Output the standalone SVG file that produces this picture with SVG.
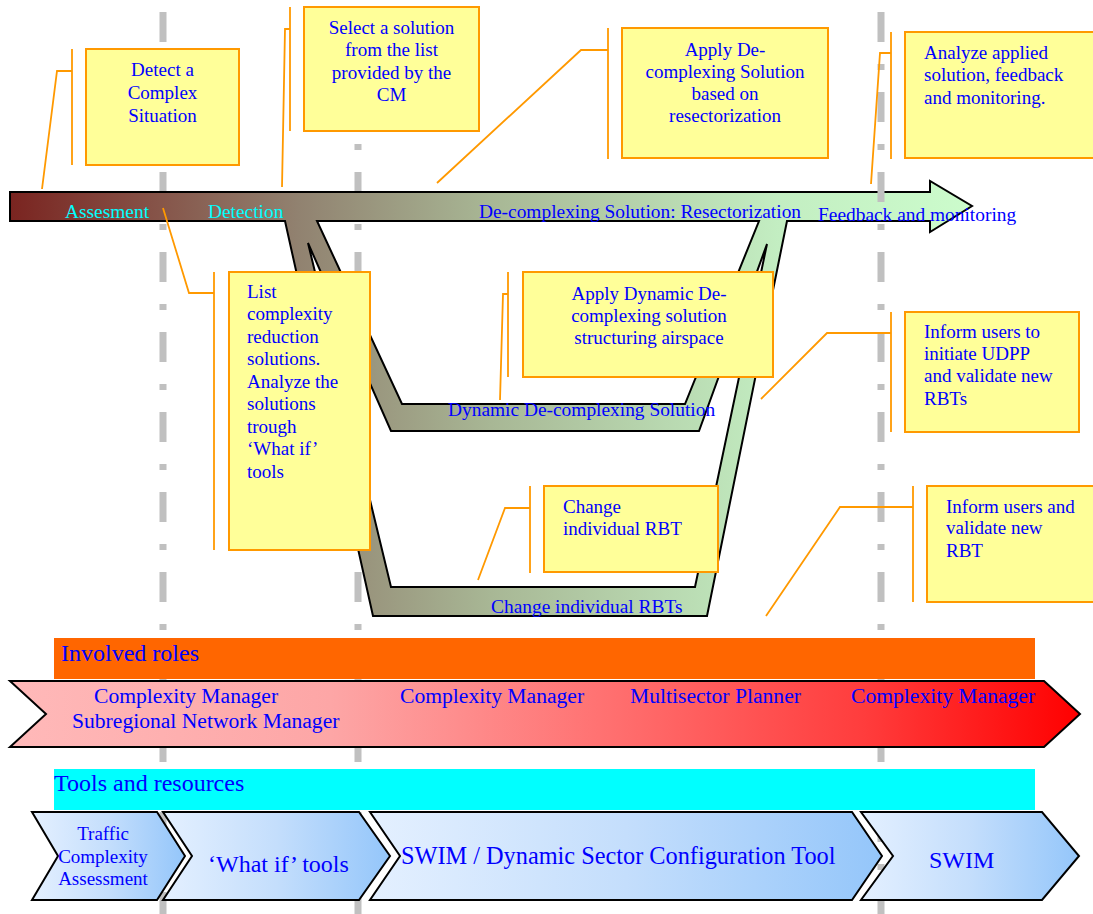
<svg xmlns="http://www.w3.org/2000/svg" width="1093" height="914" viewBox="0 0 1093 914">
<defs>
<linearGradient id="gMain" gradientUnits="userSpaceOnUse" x1="10" y1="0" x2="972" y2="0">
<stop offset="0" stop-color="#7a2420"/>
<stop offset="0.3" stop-color="#918270"/>
<stop offset="0.5" stop-color="#a8b795"/>
<stop offset="0.8" stop-color="#c3eec2"/>
<stop offset="1" stop-color="#ccfccc"/>
</linearGradient>
<linearGradient id="gRoles" gradientUnits="userSpaceOnUse" x1="10" y1="0" x2="1080" y2="0">
<stop offset="0" stop-color="#ffb9b9"/>
<stop offset="0.3" stop-color="#fda6a6"/>
<stop offset="0.55" stop-color="#ff7272"/>
<stop offset="0.8" stop-color="#ff3c3c"/>
<stop offset="1" stop-color="#ff0000"/>
</linearGradient>
<linearGradient id="gTool" x1="0" y1="0" x2="1" y2="0">
<stop offset="0" stop-color="#e4f0ff"/>
<stop offset="0.5" stop-color="#c4defc"/>
<stop offset="1" stop-color="#94c6fa"/>
</linearGradient>
</defs>
<style>
text{font-family:"Liberation Serif","Times New Roman",serif;fill:#0000ff}
.t19{font-size:19px}
.ta{font-size:19.4px}
.cy{fill:#00ffff}
.dash{stroke:#c0c0c0;stroke-width:7;stroke-dasharray:30 22 6 22;fill:none}
.box{fill:#ffff99;stroke:#ff9900;stroke-width:2}
.br{fill:none;stroke:#ff9900;stroke-width:1.8}
.chev{stroke:#000;stroke-width:2;fill:url(#gTool)}
</style>
<rect width="1093" height="914" fill="#fff"/>
<g id="guides">
<line class="dash" x1="163" y1="12" x2="163" y2="914"/>
<line class="dash" x1="358" y1="12" x2="358" y2="914"/>
</g>
<g id="process-arrow">
<path d="M10,192 L930,192 L930,181 L972,206 L930,232 L930,221 L787,221 L707,616 L373,616 L285,221 L10,221 Z M317,221 L759,221 L685,404 L402,404 Z M308,243 L391,431 L699,431 L767,244 L695,587 L391,587 Z" fill="url(#gMain)" fill-rule="evenodd" stroke="#000" stroke-width="2" stroke-linejoin="miter"/>
<text class="ta cy" x="65" y="218">Assesment</text>
<text class="ta cy" x="208" y="218">Detection</text>
<text class="ta" x="479" y="218">De-complexing Solution: Resectorization</text>
<text class="ta" x="818" y="221">Feedback and monitoring</text>
<text class="ta" x="448" y="416">Dynamic De-complexing Solution</text>
<text class="ta" x="491" y="613">Change individual RBTs</text>
</g>
<g id="guide-right">
<line class="dash" x1="881" y1="12" x2="881" y2="914"/>
</g>
<g id="connectors">
<polyline class="br" points="72,49 72,165"/>
<polyline class="br" points="72,71 57,71 42,189"/>
<polyline class="br" points="290,7 290,131"/>
<polyline class="br" points="290,29 285,29 282,187"/>
<polyline class="br" points="608,28 608,159"/>
<polyline class="br" points="608,50 581,50 437,183"/>
<polyline class="br" points="891,32 891,159"/>
<polyline class="br" points="891,53 880,53 871,184"/>
<polyline class="br" points="214,272 214,550"/>
<polyline class="br" points="214,293 189,293 163,208"/>
<polyline class="br" points="508,272 508,377"/>
<polyline class="br" points="508,294 503,294 500,400"/>
<polyline class="br" points="530,486 530,573"/>
<polyline class="br" points="530,508 505,508 478,580"/>
<polyline class="br" points="891,312 891,432"/>
<polyline class="br" points="891,333 827,333 761,399"/>
<polyline class="br" points="913,486 913,602"/>
<polyline class="br" points="913,507 840,507 766,616"/>
</g>
<g id="n-detect">
<rect class="box" x="86" y="49" width="153" height="116"/>
<text class="t19" text-anchor="middle" x="162.5" y="76">Detect a</text>
<text class="t19" text-anchor="middle" x="162.5" y="99">Complex</text>
<text class="t19" text-anchor="middle" x="162.5" y="122">Situation</text>
</g>
<g id="n-select">
<rect class="box" x="304" y="7" width="175" height="124"/>
<text class="t19" text-anchor="middle" x="391.5" y="34">Select a solution</text>
<text class="t19" text-anchor="middle" x="391.5" y="56">from the list</text>
<text class="t19" text-anchor="middle" x="391.5" y="79">provided by the</text>
<text class="t19" text-anchor="middle" x="391.5" y="101">CM</text>
</g>
<g id="n-apply">
<rect class="box" x="622" y="28" width="206" height="130"/>
<text class="t19" text-anchor="middle" x="725" y="56">Apply De-</text>
<text class="t19" text-anchor="middle" x="725" y="78">complexing Solution</text>
<text class="t19" text-anchor="middle" x="725" y="100">based on</text>
<text class="t19" text-anchor="middle" x="725" y="122">resectorization</text>
</g>
<g id="n-analyze">
<rect class="box" x="905" y="32" width="200" height="126"/>
<text class="t19" x="924" y="59">Analyze applied</text>
<text class="t19" x="924" y="81">solution, feedback</text>
<text class="t19" x="924" y="104">and monitoring.</text>
</g>
<g id="n-list">
<rect class="box" x="229" y="272" width="141" height="278"/>
<text class="t19" x="247" y="298">List</text>
<text class="t19" x="247" y="320">complexity</text>
<text class="t19" x="247" y="343">reduction</text>
<text class="t19" x="247" y="365">solutions.</text>
<text class="t19" x="247" y="388">Analyze the</text>
<text class="t19" x="247" y="410">solutions</text>
<text class="t19" x="247" y="433">trough</text>
<text class="t19" x="247" y="455">‘What if’</text>
<text class="t19" x="247" y="478">tools</text>
</g>
<g id="n-dynamic">
<rect class="box" x="523" y="272" width="250" height="105"/>
<text class="t19" text-anchor="middle" x="649" y="300">Apply Dynamic De-</text>
<text class="t19" text-anchor="middle" x="649" y="322">complexing solution</text>
<text class="t19" text-anchor="middle" x="649" y="344">structuring airspace</text>
</g>
<g id="n-change">
<rect class="box" x="544" y="486" width="174" height="86"/>
<text class="t19" x="563" y="513">Change</text>
<text class="t19" x="563" y="535">individual RBT</text>
</g>
<g id="n-inform1">
<rect class="box" x="905" y="312" width="174" height="120"/>
<text class="t19" x="924" y="338">Inform users to</text>
<text class="t19" x="924" y="360">initiate UDPP</text>
<text class="t19" x="924" y="382">and validate new</text>
<text class="t19" x="924" y="405">RBTs</text>
</g>
<g id="n-inform2">
<rect class="box" x="927" y="486" width="180" height="116"/>
<text class="t19" x="946" y="513">Inform users and</text>
<text class="t19" x="946" y="534">validate new</text>
<text class="t19" x="946" y="557">RBT</text>
</g>
<g id="roles">
<rect x="54" y="638" width="981" height="41" fill="#ff6600"/>
<text x="61" y="661" font-size="24">Involved roles</text>
<path d="M10,681 L1044,681 L1080,714 L1044,747 L10,747 L46,714 Z" fill="url(#gRoles)" stroke="#000" stroke-width="2"/>
<text x="94" y="703" font-size="21.6">Complexity Manager</text>
<text x="72" y="728" font-size="21.6">Subregional Network Manager</text>
<text x="400" y="703" font-size="21.6">Complexity Manager</text>
<text x="630" y="703" font-size="21.6">Multisector Planner</text>
<text x="851" y="703" font-size="21.6">Complexity Manager</text>
</g>
<g id="tools">
<rect x="54" y="769" width="981" height="41" fill="#00ffff"/>
<text x="54" y="791" font-size="24">Tools and resources</text>
<path class="chev" d="M32,812 L157,812 L185,856 L157,900 L32,900 L58,856 Z"/>
<path class="chev" d="M163,812 L359,812 L390,856 L359,900 L163,900 L192,856 Z"/>
<path class="chev" d="M370,812 L852,812 L882,856 L852,900 L370,900 L400,856 Z"/>
<path class="chev" d="M861,812 L1042,812 L1079,856 L1042,900 L861,900 L893,856 Z"/>
<text class="t19" text-anchor="middle" x="103" y="840">Traffic</text>
<text class="t19" text-anchor="middle" x="103" y="863">Complexity</text>
<text class="t19" text-anchor="middle" x="103" y="885">Assessment</text>
<text x="208" y="872" font-size="24">‘What if’ tools</text>
<text x="401" y="864" font-size="24.3">SWIM / Dynamic Sector Configuration Tool</text>
<text x="929" y="868" font-size="24">SWIM</text>
</g>
</svg>
